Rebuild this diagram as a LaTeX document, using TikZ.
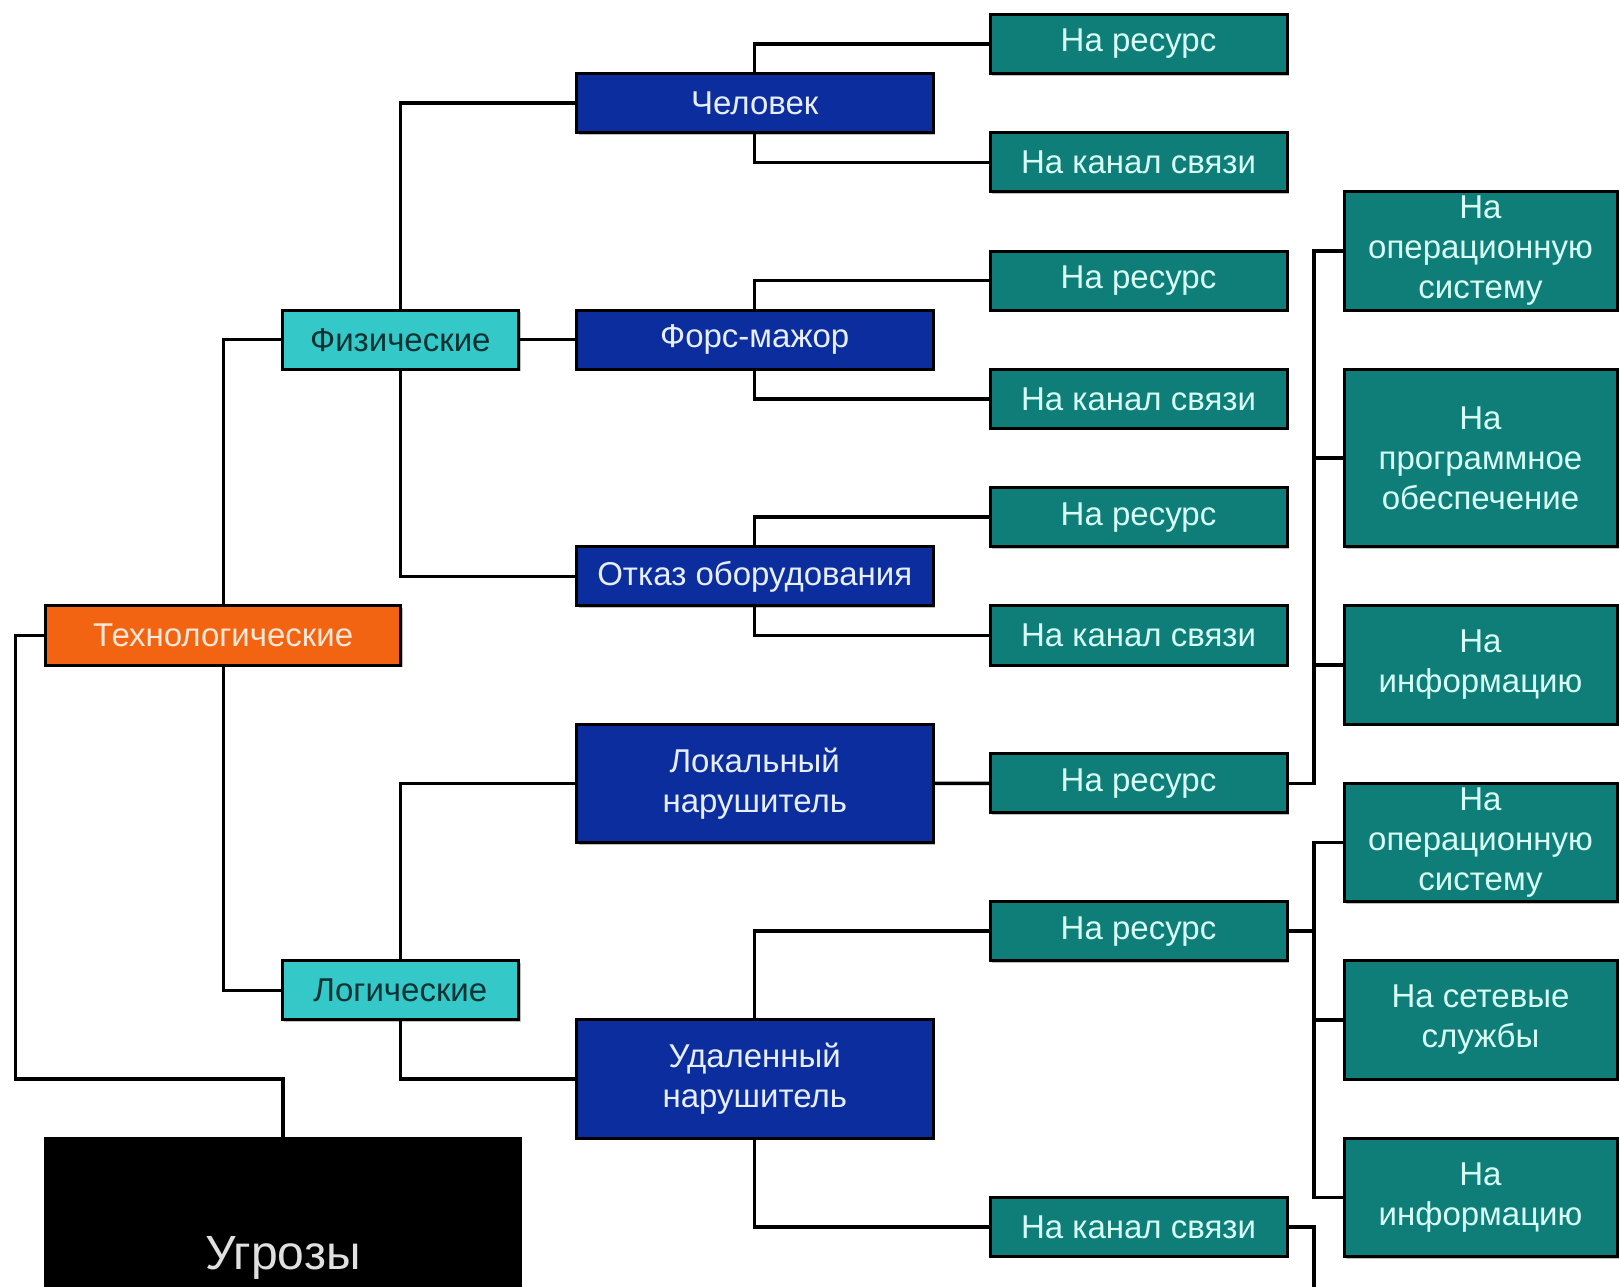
\documentclass[tikz,border=0pt]{standalone}
\usepackage{fontspec}
\setmainfont{Liberation Sans}
\usetikzlibrary{shadows}
\definecolor{tealc}{RGB}{16,126,120}
\definecolor{tealtxt}{RGB}{215,255,245}
\definecolor{navy}{RGB}{12,45,158}
\definecolor{navytxt}{RGB}{230,238,255}
\definecolor{cyanc}{RGB}{52,200,200}
\definecolor{cyantxt}{RGB}{10,50,50}
\definecolor{orangec}{RGB}{242,100,18}
\definecolor{orangetxt}{RGB}{255,232,215}
\tikzset{
  base/.style={draw=black, line width=3pt, inner sep=0pt, outer sep=0pt, align=center, anchor=north west,
    font=\fontsize{33}{40}\selectfont,
    drop shadow={shadow xshift=2pt, shadow yshift=-2pt, opacity=0.25, fill=black}},
  tealbox/.style={base, fill=tealc, text=tealtxt},
  navybox/.style={base, fill=navy, text=navytxt},
  cyanbox/.style={base, fill=cyanc, text=cyantxt},
  orangebox/.style={base, fill=orangec, text=orangetxt},
  blackbox/.style={draw=black, fill=black, line width=3pt, inner sep=0pt, outer sep=0pt, anchor=north west},
  conn/.style={draw=black, line width=3.4pt}
}
\begin{document}
\begin{tikzpicture}[x=1pt, y=-1pt]
\path[use as bounding box, clip] (0,0) rectangle (1620,1286);
\fill[white] (0,0) rectangle (1620,1286);
% level 3
\node[tealbox, minimum width=297pt, minimum height=59.1pt] (res1) at (990,14.5) {На ресурс};
\node[tealbox, minimum width=297pt, minimum height=59.1pt] (kan1) at (990,132.8) {На канал связи};
\node[tealbox, minimum width=297pt, minimum height=59.1pt] (res2) at (990,251.1) {На ресурс};
\node[tealbox, minimum width=297pt, minimum height=59.1pt] (kan2) at (990,369.3) {На канал связи};
\node[tealbox, minimum width=297pt, minimum height=59.1pt] (res3) at (990,487.6) {На ресурс};
\node[tealbox, minimum width=297pt, minimum height=59.1pt] (kan3) at (990,605.9) {На канал связи};
\node[tealbox, minimum width=297pt, minimum height=59.1pt] (res7) at (990,753.8) {На ресурс};
\node[tealbox, minimum width=297pt, minimum height=59.1pt] (res8) at (990,901.6) {На ресурс};
\node[tealbox, minimum width=297pt, minimum height=59.1pt] (kan9) at (990,1197.3) {На канал связи};
% level 2
\node[navybox, minimum width=356.5pt, minimum height=59.1pt] (chel) at (576.5,73.6) {Человек};
\node[navybox, minimum width=356.5pt, minimum height=59.1pt] (fors) at (576.5,310.2) {Форс-мажор};
\node[navybox, minimum width=356.5pt, minimum height=59.1pt] (otk) at (576.5,546.8) {Отказ оборудования};
\node[navybox, minimum width=356.5pt, minimum height=118.3pt] (lok) at (576.5,724.2) {Локальный\\нарушитель};
\node[navybox, minimum width=356.5pt, minimum height=118.3pt] (udal) at (576.5,1019.9) {Удаленный\\нарушитель};
% level 1
\node[cyanbox, minimum width=236.7pt, minimum height=59.1pt] (fiz) at (282,310.2) {Физические};
\node[cyanbox, minimum width=236.7pt, minimum height=59.1pt] (log) at (282,960.7) {Логические};
\node[orangebox, minimum width=355.4pt, minimum height=59.1pt] (tech) at (45.5,605.9) {Технологические};
\node[blackbox, minimum width=475.2pt, minimum height=230pt] (ugr) at (45.5,1138.2) {};
\node[text=white!88!black, font=\fontsize{48}{56}\selectfont] (ugrt) at (283,1258) {Угрозы};
% right column
\node[tealbox, minimum width=273pt, minimum height=118.3pt] (os1) at (1344,191.9) {На\\операционную\\систему};
\node[tealbox, minimum width=273pt, minimum height=177.5pt] (po) at (1344,369.3) {На\\программное\\обеспечение};
\node[tealbox, minimum width=273pt, minimum height=118.3pt] (inf1) at (1344,605.9) {На\\информацию};
\node[tealbox, minimum width=273pt, minimum height=118.3pt] (os2) at (1344,783.3) {На\\операционную\\систему};
\node[tealbox, minimum width=273pt, minimum height=118.3pt] (net) at (1344,960.7) {На сетевые\\службы};
\node[tealbox, minimum width=273pt, minimum height=118.3pt] (inf2) at (1344,1138.2) {На\\информацию};
% coordinates
\coordinate (lx) at (15.5,1079.2);
\coordinate (bx) at (1314,0);
\coordinate (c1) at (lx |- udal.west);
\coordinate (b1) at (res7.east -| bx);
\coordinate (b2) at (res8.east -| bx);
\coordinate (b3) at (kan9.east -| bx);
\coordinate (b3end) at (1314,1300);
% connectors
\draw[conn] (tech.west) -| (c1) -| (ugr.north);
\draw[conn] (tech.north) |- (fiz.west);
\draw[conn] (tech.south) |- (log.west);
\draw[conn] (fiz.north) |- (chel.west);
\draw[conn] (fiz.south) |- (otk.west);
\draw[conn] (fiz.east) -- (fors.west);
\draw[conn] (log.north) |- (lok.west);
\draw[conn] (log.south) |- (udal.west);
\draw[conn] (chel.north) |- (res1.west);
\draw[conn] (chel.south) |- (kan1.west);
\draw[conn] (fors.north) |- (res2.west);
\draw[conn] (fors.south) |- (kan2.west);
\draw[conn] (otk.north) |- (res3.west);
\draw[conn] (otk.south) |- (kan3.west);
\draw[conn] (lok.east) -- (res7.west);
\draw[conn] (udal.north) |- (res8.west);
\draw[conn] (udal.south) |- (kan9.west);
\draw[conn] (res7.east) -- (b1) |- (os1.west);
\draw[conn] (b1) |- (po.west);
\draw[conn] (b1) |- (inf1.west);
\draw[conn] (res8.east) -- (b2) |- (os2.west);
\draw[conn] (b2) |- (net.west);
\draw[conn] (b2) |- (inf2.west);
\draw[conn] (kan9.east) -- (b3) -- (b3end);
\end{tikzpicture}
\end{document}
